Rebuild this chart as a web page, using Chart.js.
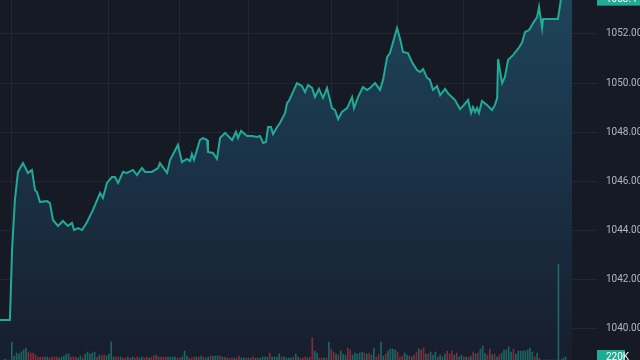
<!DOCTYPE html>
<html>
<head>
<meta charset="utf-8">
<script src="https://cdn.jsdelivr.net/npm/chart.js@4.4.1/dist/chart.umd.min.js"></script>
<style>
    html, body { margin: 0; padding: 0; background: #161a25; overflow: hidden; }
    #chart { display: block; background: #161a25; }
</style>
</head>
<body>
<canvas id="chart" width="640" height="360"></canvas>
<script>
// bar index of each traced price point (session opens at 0)
var times = [
    -5.0, -0.8, 0.1, 1.3, 2.6, 4.7, 6.8, 8.5, 9.8, 10.6,
    11.9, 14.9, 16.1, 17.4, 19.5, 21.6, 23.7, 25.4, 26.3, 28.0,
    29.7, 31.8, 34.3, 37.3, 38.5, 40.2, 42.3, 43.6, 44.9, 47.0,
    48.7, 51.2, 52.9, 55.0, 56.3, 59.2, 61.8, 62.6, 65.6, 66.9,
    70.2, 71.9, 74.0, 75.3, 76.1, 77.0, 79.5, 80.8, 82.5, 82.9,
    85.0, 86.7, 88.0, 90.1, 93.1, 94.7, 95.6, 96.9, 99.4, 101.5,
    103.6, 104.9, 106.2, 107.4, 108.3, 109.5, 110.4, 112.1, 113.3, 115.5,
    116.3, 117.1, 120.5, 122.6, 123.9, 125.2, 126.9, 128.1, 129.8, 131.5,
    133.2, 135.3, 136.6, 137.9, 139.5, 141.7, 143.8, 144.6, 146.3, 148.4,
    150.1, 151.4, 153.5, 155.6, 156.9, 158.6, 159.8, 162.8, 164.1, 165.3,
    167.4, 169.1, 171.2, 172.5, 173.8, 175.5, 176.7, 178.0, 179.7, 181.0,
    183.1, 184.3, 187.3, 189.4, 191.1, 192.8, 194.1, 194.9, 195.8, 196.6,
    197.4, 198.7, 200.8, 202.9, 204.2, 205.1, 205.5, 207.2, 208.4, 209.7,
    211.8, 213.9, 215.6, 216.9, 218.6, 220.3, 222.0, 222.8, 224.1, 224.5,
    230.8, 232.1, 236.8
];
var prices = [
    1040.35, 1040.35, 1043.20, 1045.24, 1046.38, 1046.74, 1046.34, 1046.46, 1045.64, 1045.56,
    1045.15, 1045.19, 1045.11, 1044.42, 1044.18, 1044.38, 1044.18, 1044.30, 1044.01, 1044.09,
    1044.01, 1044.34, 1044.83, 1045.52, 1045.32, 1045.93, 1046.17, 1046.17, 1045.93, 1046.38,
    1046.34, 1046.46, 1046.25, 1046.54, 1046.38, 1046.38, 1046.54, 1046.74, 1046.34, 1046.87,
    1047.48, 1046.78, 1046.91, 1046.82, 1047.11, 1046.87, 1047.68, 1047.76, 1047.68, 1047.19,
    1047.15, 1046.91, 1047.76, 1047.97, 1047.68, 1048.01, 1047.76, 1048.05, 1047.84, 1047.84,
    1047.80, 1047.84, 1047.56, 1047.60, 1048.21, 1048.21, 1047.92, 1048.21, 1048.37, 1048.78,
    1049.19, 1049.27, 1050.00, 1049.88, 1049.63, 1049.92, 1049.80, 1049.43, 1049.76, 1049.39,
    1049.80, 1048.98, 1048.90, 1048.53, 1048.82, 1048.98, 1049.43, 1048.98, 1049.43, 1049.84,
    1049.72, 1049.80, 1050.00, 1049.72, 1050.13, 1051.06, 1051.22, 1052.24, 1051.80, 1051.27,
    1051.22, 1050.86, 1050.53, 1050.45, 1050.57, 1050.21, 1050.13, 1049.72, 1049.88, 1049.51,
    1049.76, 1049.59, 1049.31, 1048.94, 1049.11, 1049.31, 1048.78, 1049.02, 1048.82, 1048.98,
    1048.78, 1049.27, 1049.11, 1048.90, 1049.11, 1049.39, 1050.98, 1050.00, 1050.25, 1050.94,
    1051.14, 1051.39, 1051.64, 1052.08, 1052.16, 1052.45, 1052.69, 1053.10, 1052.24, 1052.61,
    1052.61, 1053.44, 1053.44
];

// volume per bar in thousands, first bar is index -3
var volumeFirstBar = -3;
var volumes = [
    75, 0, 0, 1320, 295, 515, 440, 585, 735, 880,
    585, 515, 515, 365, 220, 220, 220, 220, 220, 145,
    220, 220, 220, 145, 220, 295, 440, 440, 220, 220,
    220, 145, 295, 145, 440, 585, 440, 515, 585, 220,
    365, 295, 365, 295, 440, 1320, 220, 220, 220, 220,
    145, 145, 220, 145, 220, 145, 220, 145, 220, 145,
    220, 145, 220, 295, 365, 220, 220, 220, 220, 220,
    220, 220, 220, 145, 145, 220, 660, 295, 145, 145,
    220, 220, 220, 295, 220, 145, 220, 295, 295, 295,
    295, 295, 220, 220, 145, 145, 145, 145, 145, 295,
    145, 145, 145, 145, 145, 220, 145, 145, 145, 220,
    220, 220, 515, 220, 220, 220, 440, 220, 220, 145,
    145, 145, 220, 440, 220, 145, 145, 220, 145, 220,
    1615, 660, 515, 145, 145, 145, 145, 1320, 805, 585,
    440, 365, 660, 440, 365, 880, 735, 365, 515, 440,
    515, 585, 515, 440, 515, 365, 880, 220, 440, 1320,
    295, 440, 660, 805, 805, 735, 585, 220, 295, 515,
    365, 295, 220, 365, 585, 805, 735, 880, 440, 440,
    585, 365, 585, 220, 365, 220, 440, 660, 440, 660,
    365, 515, 220, 365, 220, 220, 220, 295, 585, 440,
    515, 805, 1025, 515, 365, 805, 365, 440, 220, 365,
    515, 735, 735, 955, 585, 805, 440, 660, 660, 660,
    660, 735, 880, 585, 220, 515, 145, 0, 0, 0,
    0, 0, 0, 0, 7040, 0, 145, 220
];
// u = up bar, d = down bar
var volumeSide =
    "uuuuuuuuuu" + "ddddddduud" + "ddduuuuudd" + "duuduuuuud" + "udduuuuddu" +
    "ddududduud" + "dudddudddu" + "uuudduuudd" + "dududuuduu" + "udududdudd" +
    "uududduduu" + "uuduuuuduu" + "uuduudddud" + "duuddududd" + "uduuudduuu" +
    "uududuuddu" + "uduuuudddu" + "ududduddud" + "uuuduuuddd" + "uduudududu" +
    "duuuddudud" + "uuuuuduuuu" + "uuuududuuu" + "uuuuuuuu";

var gridTimes = [0, 41, 71, 100, 135, 163, 191];
var priceTicks = [1040, 1042, 1044, 1046, 1048, 1050, 1052];

var upColor = "#22ab94";
var volUp = "rgba(34, 171, 148, 0.5)";
var volDown = "rgba(242, 54, 69, 0.5)";
var labelFont = "10px Roboto";

var pricePoints = [];
for (var i = 0; i < times.length; i++) {
    pricePoints.push({ x: times[i], y: prices[i] });
}
var volumePoints = [];
var volumeColors = [];
for (var j = 0; j < volumes.length; j++) {
    volumePoints.push({ x: volumeFirstBar + j, y: volumes[j] });
    volumeColors.push(volumeSide.charAt(j) === "d" ? volDown : volUp);
}

function drawTag(ctx, text, x, y, w, h) {
    ctx.fillStyle = upColor;
    ctx.fillRect(x, y - h / 2, w, h);
    ctx.fillStyle = "#ffffff";
    ctx.textBaseline = "middle";
    ctx.textAlign = "left";
    ctx.fillText(text, x + 9, y + 0.5);
}

var lastValueTags = {
    id: "lastValueTags",
    afterDraw: function (chart) {
        var ctx = chart.ctx;
        var area = chart.chartArea;
        ctx.save();
        ctx.font = labelFont;
        var lastPrice = prices[prices.length - 1];
        var py = chart.scales.y.getPixelForValue(lastPrice);
        drawTag(ctx, lastPrice.toFixed(2), area.right, py, 60, 14);
        var lastVol = volumes[volumes.length - 1];
        var vy = chart.scales.y1.getPixelForValue(lastVol);
        drawTag(ctx, lastVol + "K", area.right, vy, 28, 14);
        ctx.restore();
    }
};

function noPadding(s) {
    s.paddingTop = 0;
    s.paddingBottom = 0;
    s.paddingLeft = 0;
    s.paddingRight = 0;
}

var chart = new Chart(document.getElementById("chart"), {
    type: "line",
    data: {
        datasets: [
            {
                type: "bar",
                data: volumePoints,
                yAxisID: "y1",
                backgroundColor: volumeColors,
                barThickness: 1,
                order: 1
            },
            {
                type: "line",
                data: pricePoints,
                yAxisID: "y",
                borderColor: upColor,
                borderWidth: 2,
                pointRadius: 0,
                tension: 0,
                fill: "start",
                backgroundColor: function (c) {
                    var area = c.chart.chartArea;
                    if (!area) return null;
                    var g = c.chart.ctx.createLinearGradient(0, area.top, 0, area.bottom);
                    g.addColorStop(0, "#1e4459");
                    g.addColorStop(0.5, "#1a3045");
                    g.addColorStop(1, "#171e2d");
                    return g;
                },
                order: 2
            }
        ]
    },
    options: {
        responsive: false,
        animation: false,
        layout: { padding: 0 },
        plugins: { legend: { display: false }, tooltip: { enabled: false } },
        scales: {
            x: {
                type: "linear",
                offset: false,
                min: -5,
                max: 247.3,
                border: { display: false },
                grid: { color: "#222634", drawTicks: false, offset: false },
                ticks: { display: false },
                afterBuildTicks: function (s) {
                    s.ticks = gridTimes.map(function (v) { return { value: v }; });
                },
                afterFit: function (s) { s.height = 0; noPadding(s); }
            },
            y: {
                position: "right",
                min: 1038.716,
                max: 1053.385,
                border: { display: false },
                grid: { color: "#222634", drawTicks: false },
                ticks: {
                    color: "#b2b5be",
                    padding: 9,
                    font: { family: "Roboto", size: 10 },
                    callback: function (v) { return Number(v).toFixed(2); }
                },
                afterBuildTicks: function (s) {
                    s.ticks = priceTicks.map(function (v) { return { value: v }; });
                },
                afterFit: function (s) { s.width = 43; noPadding(s); }
            },
            y1: {
                display: false,
                min: 0,
                max: 26400
            }
        }
    },
    plugins: [lastValueTags]
});
</script>
</body>
</html>
